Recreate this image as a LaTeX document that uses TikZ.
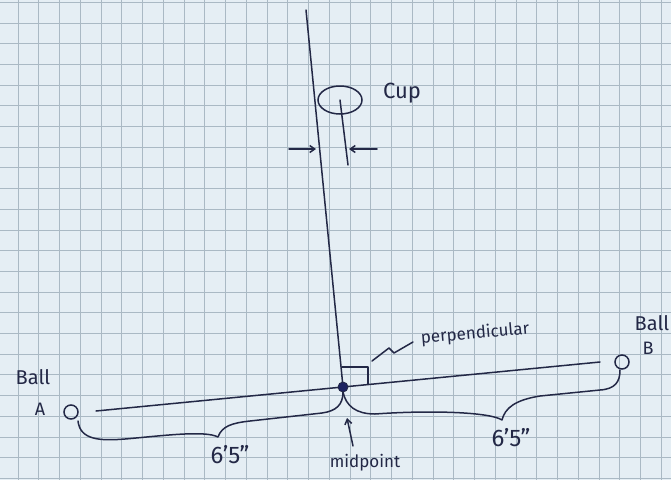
\documentclass[tikz,border=0pt]{standalone}
\usepackage{fontspec}
\setmainfont{Fira Sans}
\usetikzlibrary{shapes.geometric,arrows.meta}
\definecolor{paper}{HTML}{E5EEF4}
\definecolor{gridc}{HTML}{AAB9C4}
\definecolor{ink}{HTML}{232846}
\definecolor{dotc}{HTML}{1C2160}
\begin{document}
\begin{tikzpicture}[x=1pt,y=-1pt,
  gridline/.style={draw=gridc, line width=0.9pt},
  pen/.style={draw=ink, line width=1.5pt, line cap=round, line join=round},
  ball/.style={circle, draw=ink, line width=1.5pt, minimum size=14pt, inner sep=0pt},
  dotnode/.style={circle, fill=dotc, draw=ink, line width=0.8pt, minimum size=10pt, inner sep=0pt},
  hand/.style={text=ink, inner sep=0pt, font=\fontsize{#1}{#1}\selectfont},
  hand/.default=18,
  arr/.style={pen, -{Straight Barb[length=5pt,width=7pt]}}]
\fill[paper] (0,0) rectangle (671,480);
\useasboundingbox (0,0) rectangle (671,480);
% grid
\foreach \i in {0,...,31} \draw[gridline] ({18+20.75*\i},0) -- ({18+20.75*\i},480);
\foreach \j in {0,...,23} \draw[gridline] (0,{2.3+20.7*\j}) -- (671,{2.3+20.7*\j});
% main lines
\coordinate (m) at (343,387);
\coordinate (top) at (306,10);
\coordinate (baseL) at (96,411);
\coordinate (baseR) at (600,362);
\draw[pen] (top) -- (m);
\draw[pen] (baseL) -- (baseR);
% right angle mark
\coordinate (ra1) at (342,367);
\coordinate (ra2) at (368,367);
\coordinate (ra3) at (368,384);
\draw[pen] (ra1) -- (ra2) -- (ra3);
% balls
\node[ball] (ballA) at (71,412) {};
\node[ball] (ballB) at (622,362) {};
\node[dotnode] (mid) at (m) {};
% cup
\node[ellipse, draw=ink, line width=1.5pt, minimum width=44pt, minimum height=28pt, inner sep=0pt] (cup) at (340,100) {};
\coordinate (stem) at (348,165);
\draw[pen] (cup.center) -- (stem);
\node[hand=22] (cuptxt) at (402,93) {Cup};
% gap arrows
\coordinate (aL0) at (289,149);
\coordinate (aL1) at (316,149);
\coordinate (aR0) at (377,149);
\coordinate (aR1) at (349,149);
\draw[arr] (aL0) -- (aL1);
\draw[arr] (aR0) -- (aR1);
% perpendicular label
\node[hand=17, rotate=5] (perp) at (475,334) {perpendicular};
\coordinate (z0) at (372,361);
\coordinate (z1) at (389,348);
\coordinate (z2) at (394,353);
\coordinate (z3) at (413,342);
\draw[pen] (z0) -- (z1) -- (z2) -- (z3);
% braces
\coordinate (bA) at (78,421);
\coordinate (bB) at (620,370);
\coordinate (bm) at (343,392);
\draw[pen] (bA) .. controls (80,440) and (100,441) .. (125,439)
  .. controls (160,436) and (205,430) .. (218,437)
  .. controls (222,426) and (232,423) .. (250,421) -- (322,413)
  .. controls (336,411) and (343,405) .. (bm);
\draw[pen] (bm) .. controls (346,406) and (356,414) .. (375,414)
  .. controls (430,410) and (490,412) .. (502,420)
  .. controls (505,408) and (515,400) .. (540,396) -- (600,390)
  .. controls (615,389) and (620,382) .. (bB);
\node[hand=24] (lenL) at (230,455) {6'5"};
\node[hand=24] (lenR) at (511,438) {6'5"};
% midpoint label
\node[hand=17] (midtxt) at (365,463) {midpoint};
\coordinate (mt0) at (353,446);
\coordinate (mt1) at (347,418);
\draw[arr] (mt0) -- (mt1);
% ball labels
\node[hand=20] (ballAtxt) at (33,377) {Ball};
\node[hand=18] (Atxt) at (40,409) {A};
\node[hand=20] (ballBtxt) at (652,323) {Ball};
\node[hand=18] (Btxt) at (648,348) {B};
\end{tikzpicture}
\end{document}
